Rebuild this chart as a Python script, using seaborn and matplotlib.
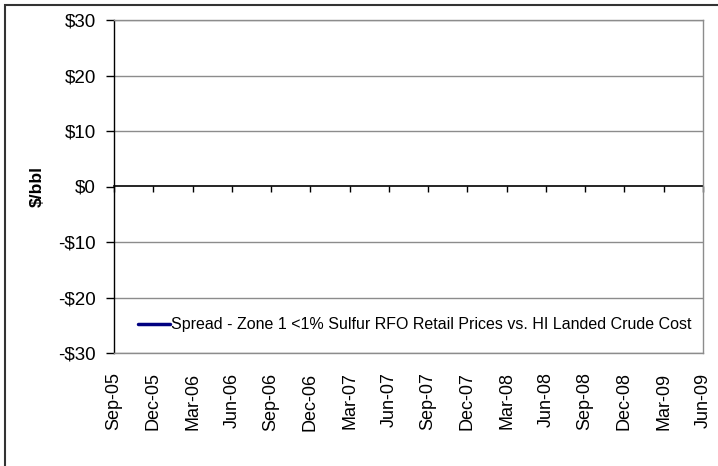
import numpy as np
import pandas as pd
import matplotlib
matplotlib.use("Agg")
import matplotlib.pyplot as plt
from matplotlib.lines import Line2D
from matplotlib.patches import Rectangle
import seaborn as sns

# Quarterly category labels along the x axis
quarters = ["Sep-05", "Dec-05", "Mar-06", "Jun-06", "Sep-06", "Dec-06",
            "Mar-07", "Jun-07", "Sep-07", "Dec-07", "Mar-08", "Jun-08",
            "Sep-08", "Dec-08", "Mar-09", "Jun-09"]
# Spread series ($/bbl); no values are reported for the period
spread = [np.nan] * len(quarters)
series_name = "Spread - Zone 1 <1% Sulfur RFO Retail Prices vs. HI Landed Crude Cost"
y_ticks = [-30, -20, -10, 0, 10, 20, 30]

df = pd.DataFrame({"pos": np.arange(len(quarters)), "spread": spread})

sns.set_theme(style="white")
plt.rcParams["font.family"] = ["Liberation Sans", "DejaVu Sans"]
plt.rcParams.update({"text.color": "black", "axes.labelcolor": "black",
                     "xtick.color": "black", "ytick.color": "black"})

fig = plt.figure(figsize=(7.18, 4.66), dpi=100)
ax = fig.add_axes([114 / 718, 1 - 353 / 466, 589 / 718, 333 / 466])

line_color = "#000080"
sns.lineplot(data=df, x="pos", y="spread", ax=ax, color=line_color, lw=2.5)

ax.set_xlim(0, len(quarters) - 1)
ax.set_ylim(-30, 30)

# Gridlines and plot-area border
grid_c = "#8c8c8c"
for v in y_ticks:
    if v != 0:
        ax.axhline(v, color=grid_c, lw=1, zorder=0)
for side in ["top", "right", "bottom"]:
    ax.spines[side].set_color(grid_c)
    ax.spines[side].set_linewidth(1)
ax.spines["left"].set_color("black")
ax.spines["left"].set_linewidth(1)

# y axis
ax.set_yticks(y_ticks)
ax.set_yticklabels([f"${v}" if v >= 0 else f"-${-v}" for v in y_ticks], fontsize=13.5)
ax.tick_params(axis="y", which="both", left=True, direction="out", length=6,
               width=1, color="black", labelcolor="black", pad=7)
ax.set_ylabel("$/bbl", fontsize=12.5, fontweight="bold", color="black")
ax.yaxis.set_label_coords(-(114 - 45) / 589, 0.5)

# x labels at the bottom, without tick marks
ax.set_xticks(np.arange(len(quarters)))
ax.set_xticklabels(quarters, rotation=90, fontsize=13, va="top")
ax.tick_params(axis="x", bottom=False, length=0, pad=14, labelcolor="black")
ax.set_xlabel("")

# zero axis line with tick marks below it
zero_ax = ax.secondary_xaxis(0.5)
zero_ax.set_xticks(np.arange(len(quarters)))
zero_ax.set_xticklabels([])
zero_ax.tick_params(axis="x", direction="in", length=4, width=1, color="black")
for s in zero_ax.spines.values():
    s.set_color("black")
    s.set_linewidth(1.2)

# Legend
handle = Line2D([0], [0], color=line_color, lw=2.5)
leg = ax.legend([handle], [series_name], loc="center left",
                bbox_to_anchor=(18 / 589, 28 / 333), frameon=False, fontsize=11.5,
                handlelength=2.0, handletextpad=0.05, borderaxespad=0)
for t in leg.get_texts():
    t.set_color("black")

# Outer chart frame
fig.patches.append(Rectangle((5 / 718, -0.1), 1.2, 1 - 5 / 466 + 0.1,
                             transform=fig.transFigure, fill=False,
                             edgecolor="#333333", lw=1.5, zorder=10))

fig.savefig("out.png", dpi=100)
